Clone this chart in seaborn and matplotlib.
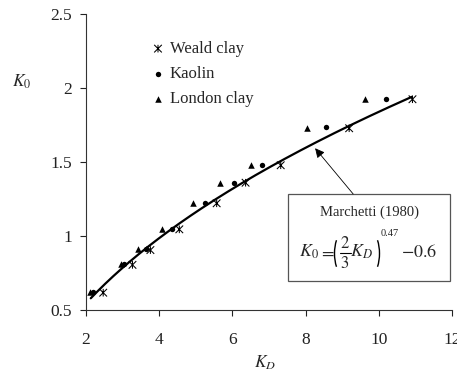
import numpy as np
import pandas as pd
import matplotlib
matplotlib.use("Agg")
import matplotlib.pyplot as plt
from matplotlib.path import Path
from matplotlib.patches import Rectangle, Arc
from matplotlib.lines import Line2D
import seaborn as sns

# ---- data ----
weald_kd = [2.47, 3.27, 3.76, 4.55, 5.57, 6.36, 7.32, 9.19, 10.92]
weald_k0 = [0.617, 0.805, 0.905, 1.045, 1.221, 1.36, 1.478, 1.728, 1.924]
kaolin_kd = [2.20, 3.04, 3.63, 4.36, 5.25, 6.05, 6.82, 8.55, 10.19]
kaolin_k0 = [0.625, 0.81, 0.912, 1.048, 1.225, 1.36, 1.482, 1.734, 1.928]
london_kd = [2.12, 2.96, 3.43, 4.07, 4.92, 5.67, 6.50, 8.05, 9.62]
london_k0 = [0.625, 0.81, 0.915, 1.05, 1.225, 1.36, 1.482, 1.732, 1.926]

# Marchetti (1980) correlation
curve_kd_range = (2.13, 10.9)
x_ticks = [2, 4, 6, 8, 10, 12]
y_ticks = [0.5, 1, 1.5, 2, 2.5]
y_tick_labels = ['0.5', '1', '1.5', '2', '2.5']

sns.set_style("ticks")
plt.rcParams['font.family'] = ['Liberation Serif', 'DejaVu Serif']
plt.rcParams['mathtext.fontset'] = 'stix'

W, H = 457, 371
fig = plt.figure(figsize=(W / 100, H / 100), dpi=100)
ax = fig.add_axes([86 / W, 1 - 310 / H, (452 - 86) / W, (310 - 14) / H])


def px(x, y):
    return (x / W, 1 - y / H)


curve_kd = np.linspace(*curve_kd_range, 200)
curve_k0 = (2.0 / 3.0 * curve_kd) ** 0.47 - 0.6
sns.lineplot(x=curve_kd, y=curve_k0, ax=ax, color='black', lw=1.6, zorder=2)

star = Path([(-1, -1), (1, 1), (-1, 1), (1, -1), (0, -1), (0, 1)],
            [Path.MOVETO, Path.LINETO, Path.MOVETO, Path.LINETO, Path.MOVETO, Path.LINETO])

sns.scatterplot(x=weald_kd, y=weald_k0, ax=ax, marker=star, s=30,
                facecolor='none', edgecolor='black', linewidth=0.75,
                label='Weald clay', zorder=3)
sns.scatterplot(x=kaolin_kd, y=kaolin_k0, ax=ax, marker='o', s=15,
                color='black', edgecolor='black', linewidth=0,
                label='Kaolin', zorder=3)
sns.scatterplot(x=london_kd, y=london_k0, ax=ax, marker='^', s=22,
                color='black', edgecolor='black', linewidth=0,
                label='London clay', zorder=3)

ax.set_xlim(2, 12)
ax.set_ylim(0.5, 2.5)
ax.set_xticks(x_ticks)
ax.set_yticks(y_ticks)
ax.set_xticklabels([str(t) for t in x_ticks])
ax.set_yticklabels(y_tick_labels)
ax.tick_params(axis='both', direction='out', length=4, width=0.8,
               labelsize=12.5, colors='#222222')
ax.tick_params(axis='y', pad=6)
ax.tick_params(axis='x', pad=12)
for sp in ['top', 'right']:
    ax.spines[sp].set_visible(False)
for sp in ['left', 'bottom']:
    ax.spines[sp].set_linewidth(0.8)
    ax.spines[sp].set_color('#333333')
ax.set_xlabel('')
ax.set_ylabel('')

leg = ax.legend(loc='upper left', bbox_to_anchor=((153 - 86) / 366, (310 - 41) / 296),
                frameon=False, fontsize=12, handlelength=0.6, handletextpad=0.4,
                labelspacing=0.55, borderpad=0, borderaxespad=0, scatterpoints=1)

fig.text(*px(21.7, 82), r'$K_0$', ha='center', va='center', fontsize=12.5)
fig.text(*px(265, 363), r'$K_D$', ha='center', va='center', fontsize=12.5)

# annotation box
bx0, bx1 = 2 + (288.3 - 86) / 36.6, 2 + (450 - 86) / 36.6
by0, by1 = 0.5 + (310 - 280.7) / 148, 0.5 + (310 - 194) / 148
ax.add_patch(Rectangle((bx0, by0), bx1 - bx0, by1 - by0, fill=True, facecolor='white',
                       edgecolor='#555555', lw=0.9, zorder=4, clip_on=False))
cx = (bx0 + bx1) / 2
ax.text(cx, 0.5 + (310 - 212) / 148, 'Marchetti (1980)', ha='center', va='center',
        fontsize=10.5, zorder=5)

# formula K0 = ((2/3) KD)^0.47 - 0.6, composed from pieces
fs = 13
base = 257
fig.text(*px(299, base), r'$K_0$', ha='left', va='baseline', fontsize=fs, zorder=6)
fig.text(*px(327.5, base), r'$=$', ha='center', va='baseline', fontsize=fs, zorder=6)
fig.text(*px(345, 247.5), r'$2$', ha='center', va='baseline', fontsize=12, zorder=6)
fig.text(*px(345, 268), r'$3$', ha='center', va='baseline', fontsize=12, zorder=6)
fig.lines.append(Line2D([339.5 / W, 350.5 / W], [1 - 252.5 / H, 1 - 252.5 / H],
                        transform=fig.transFigure, color='black', lw=0.8, zorder=6))
fig.text(*px(350.5, base), r'$K_D$', ha='left', va='baseline', fontsize=fs, zorder=6)
fig.text(*px(381, 236.5), '0.47', ha='left', va='baseline', fontsize=7.5, zorder=6)
fig.text(*px(401, base), r'$-0.6$', ha='left', va='baseline', fontsize=fs, zorder=6)
for (cxp, t1, t2) in [(347.5, 124, 236), (366.5, -56, 56)]:
    fig.patches.append(Arc(px(cxp, 253.5), 26 / W, 50 / H, theta1=t1, theta2=t2,
                           transform=fig.transFigure, color='black', lw=1.0, zorder=6))

ax.annotate('', xy=(8.26, 1.593), xytext=(9.30, by1),
            arrowprops=dict(arrowstyle='-|>', color='black', lw=0.6,
                            mutation_scale=14, shrinkA=0, shrinkB=0), zorder=4)

fig.savefig('out.png', dpi=100)
